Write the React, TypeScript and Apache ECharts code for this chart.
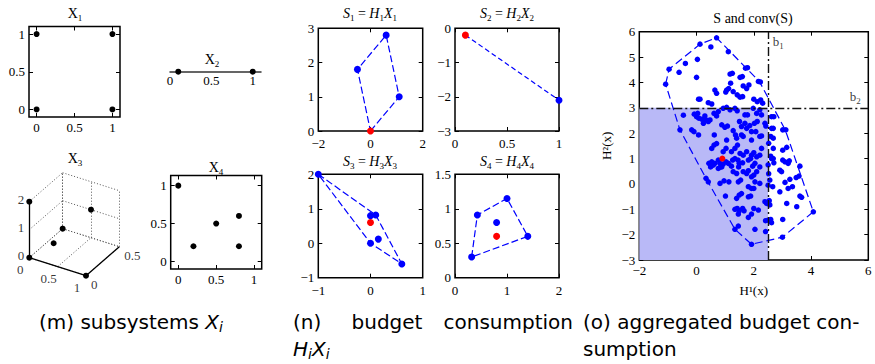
import React, { useEffect, useRef } from "react";
import * as echarts from "echarts";

// ---------------- data ----------------
const X1_points = [[0, 0], [0, 1], [1, 0], [1, 1]];
const X2_points = [[0.1, 0], [1, 0]];
const X3_points = [[0, 0, 0], [0, 0, 2], [1, 0, 0], [0, 0.5, 0], [0.5, 0.5, 1], [0.1, 0.28, 0]];
const X3_xTicks = [0, 0.5, 1];
const X3_yTicks = [0, 0.5];
const X3_zTicks = [0, 1, 2];
const X4_points = [[0, 1], [0.2, 0.2], [0.5, 0.5], [0.8, 0.6], [0.8, 0.2]];
const X_ticks = [0, 0.5, 1];

const S1_blue = [[0.6, 2.8], [-0.5, 1.8], [1.1, 1.0]];
const S1_red = [[0, 0]];
const S1_hull = [[0, 0], [1.1, 1.0], [0.6, 2.8], [-0.5, 1.8], [0, 0]];

const S2_blue = [[1, -2.1]];
const S2_red = [[0.1, -0.2]];
const S2_hull = [[0.1, -0.2], [1, -2.1]];

const S3_blue = [[-1, 2], [0, 0.8], [0.1, 0.82], [0, 0], [0.15, 0.12], [0.6, -0.6]];
const S3_red = [[0, 0.6]];
const S3_hull = [[-1, 2], [0.1, 0.82], [0.6, -0.6], [0, 0], [-1, 2]];

const S4_blue = [[0.32, 0.3], [0.43, 0.91], [1.0, 1.15], [1.4, 0.6], [0.8, 0.8]];
const S4_red = [[0.8, 0.6]];
const S4_hull = [[0.32, 0.3], [0.43, 0.91], [1.0, 1.15], [1.4, 0.6], [0.32, 0.3]];

const O_points = [
  [0.70, 5.76], [0.12, 5.51], [0.50, 5.40], [1.11, 5.21], [0.03, 4.91], [-0.39, 4.75], [-0.61, 4.40], [-0.96, 4.52], [-1.08, 3.93], [0.00, 4.20],
  [1.71, 4.56], [1.78, 4.58], [1.17, 4.33], [1.25, 4.36], [1.52, 4.20], [1.60, 4.23], [1.19, 3.97], [1.63, 3.86], [1.75, 3.76], [1.83, 3.90],
  [2.16, 4.04], [2.23, 4.02], [0.64, 3.70], [0.70, 3.57], [1.05, 3.70], [1.12, 3.76], [1.02, 3.62], [1.28, 3.64], [1.42, 3.51], [1.52, 3.42],
  [1.61, 3.44], [0.07, 3.34], [0.12, 3.34], [0.41, 3.20], [0.53, 3.15], [2.00, 3.34], [2.12, 3.24], [2.31, 3.18], [2.24, 3.31], [-0.46, 2.71],
  [-0.58, 2.13], [-0.08, 2.75], [0.00, 2.65], [0.04, 2.78], [0.08, 2.59], [0.29, 2.68], [0.41, 2.46], [0.47, 2.52], [0.33, 2.52], [0.18, 2.55],
  [0.24, 2.39], [0.61, 2.78], [0.70, 2.68], [0.76, 2.85], [0.93, 2.98], [1.05, 3.02], [1.17, 2.92], [1.34, 2.98], [1.42, 2.88], [1.69, 2.72],
  [1.78, 2.72], [1.98, 2.98], [2.10, 2.78], [2.21, 2.92], [2.27, 2.72], [0.88, 2.33], [0.99, 2.23], [1.08, 2.28], [0.62, 1.93], [-0.17, 2.13],
  [-0.09, 2.06], [0.07, 1.93], [1.28, 2.10], [1.36, 1.93], [1.57, 1.93], [1.63, 1.87], [1.69, 2.39], [2.02, 2.39], [2.12, 2.46], [2.39, 2.39],
  [2.42, 2.28], [2.62, 2.65], [2.70, 2.65], [2.62, 2.19], [2.68, 2.19], [3.01, 2.13], [3.12, 2.13], [2.07, 2.06], [2.21, 1.87], [2.27, 1.89],
  [1.92, 1.73], [1.05, 1.73], [1.40, 1.80], [2.59, 1.87], [2.68, 1.80], [1.57, 2.26], [1.75, 2.19], [1.92, 2.06], [1.50, 2.46], [1.86, 2.30],
  [0.53, 1.40], [0.61, 1.53], [0.70, 1.59], [0.93, 1.27], [1.03, 1.40], [1.22, 1.27], [1.34, 1.40], [1.43, 1.53], [1.52, 1.20], [1.63, 1.13],
  [1.75, 1.27], [1.92, 1.13], [2.00, 1.23], [2.10, 1.07], [2.21, 1.13], [2.27, 1.40], [1.34, 1.00], [1.45, 0.94], [1.81, 0.94], [1.89, 1.00],
  [2.68, 1.40], [2.59, 1.09], [2.68, 1.00], [3.01, 1.33], [3.15, 1.44], [0.53, 0.87], [0.43, 0.81], [0.58, 0.74], [0.49, 0.67], [0.64, 0.81],
  [0.76, 0.94], [0.82, 0.81], [0.88, 0.67], [0.93, 0.78], [1.03, 0.87], [1.11, 0.81], [1.26, 0.94], [1.22, 0.70], [0.76, 0.61], [0.84, 0.67],
  [1.49, 0.81], [1.47, 0.67], [1.61, 0.83], [1.96, 0.70], [2.04, 0.81], [2.21, 0.67], [2.62, 1.00], [2.70, 0.83], [3.01, 0.94], [3.09, 0.87],
  [3.20, 0.81], [3.24, 0.91], [3.61, 0.70], [1.28, 0.48], [1.40, 0.41], [1.63, 0.48], [1.75, 0.41], [1.81, 0.52], [1.92, 0.28], [2.00, 0.35],
  [2.10, 0.48], [2.97, 0.48], [2.91, 0.54], [3.58, 0.31], [3.48, 0.25], [0.33, 0.22], [0.41, 0.08], [0.82, 0.02], [0.96, 0.12], [1.13, 0.08],
  [1.46, 0.08], [1.54, 0.15], [2.04, 0.08], [2.21, 0.02], [2.56, 0.15], [2.50, -0.05], [2.66, -0.11], [3.09, 0.06], [3.26, 0.18], [2.91, -0.31],
  [3.20, -0.18], [3.35, -0.11], [1.81, -0.11], [1.92, -0.18], [2.00, -0.18], [1.49, -0.44], [1.57, -0.38], [1.01, -0.48], [1.40, -0.57], [1.81, -0.51],
  [1.89, -0.48], [2.39, -0.70], [2.45, -0.77], [2.54, -0.66], [2.56, -0.83], [3.61, -0.48], [3.67, -0.53], [3.15, -0.77], [3.50, -0.90], [1.34, -1.00],
  [1.42, -0.97], [1.49, -1.06], [1.61, -0.97], [1.66, -1.06], [2.00, -0.97], [2.16, -1.03], [1.81, -1.32], [1.92, -1.19], [1.46, -1.19], [2.41, -1.45],
  [2.50, -1.43], [2.59, -1.40], [2.62, -1.53], [3.01, -1.40], [1.34, -1.79], [1.46, -1.66], [2.04, -1.79], [2.41, -1.88], [1.92, -2.38], [3.00, -2.10],
  [4.08, -1.10], [2.52, 1.60], [2.50, 0.75], [2.52, 0.40],
];
const O_red = [[0.9, 1.0]];
const O_hull = [
  [-1.08, 3.93], [-0.96, 4.52], [0.12, 5.51], [0.70, 5.76], [2.2, 4.03], [3.1, 2.13], [4.08, -1.1],
  [3.0, -2.1], [1.92, -2.38], [1.34, -1.79], [0.33, 0.22], [-0.58, 2.13], [-1.08, 3.93],
];
const B1 = 2.5;
const B2 = 3;
const O_shade = [[-2, -3], [B1, B2]];
const O_labels = [[2.85, 5.6, "1"], [5.54, 3.44, "2"]];

// ---------------- styling helpers ----------------
const SERIF = "'Liberation Serif', 'DejaVu Serif', serif";
const SANS = "'DejaVu Sans', 'Liberation Sans', sans-serif";
const BLUE = "#0000ff";
const RED = "#ff0000";

const fmt = (v: number) => {
  const s = String(Math.round(v * 1000) / 1000);
  return s.replace("-", "\u2212");
};

type AxisSpec = { min: number; max: number; interval?: number; custom?: number[] };

function buildAxis(gi: number, s: AxisSpec, position: string, labels: boolean, margin = 4) {
  return {
    type: "value",
    gridIndex: gi,
    position,
    min: s.min,
    max: s.max,
    interval: s.interval,
    axisLine: { show: false, onZero: false },
    axisTick: { show: true, inside: true, length: 4, lineStyle: { color: "#000", width: 1 }, customValues: s.custom },
    axisLabel: {
      show: labels,
      customValues: s.custom,
      margin,
      fontFamily: SERIF,
      fontSize: 13,
      color: "#000",
      formatter: fmt,
      showMinLabel: true,
      showMaxLabel: true,
    },
    splitLine: { show: false },
  };
}

const grids: any[] = [];
const xAxes: any[] = [];
const yAxes: any[] = [];
const series: any[] = [];

function addPanel(g: any, xs: AxisSpec, ys: AxisSpec, xMargin = 4, extraX: any = {}, extraY: any = {}) {
  const gi = grids.length;
  grids.push({ ...g, show: true, borderColor: "#000", borderWidth: 1.5, backgroundColor: "transparent" });
  const xi = xAxes.length;
  const yi = yAxes.length;
  xAxes.push({ ...buildAxis(gi, xs, "bottom", true, xMargin), ...extraX });
  yAxes.push({ ...buildAxis(gi, ys, "left", true, 4), ...extraY });
  xAxes.push(buildAxis(gi, xs, "top", false));
  yAxes.push(buildAxis(gi, ys, "right", false));
  return { xi, yi };
}

function scatter(ax: any, data: any[], color: string, size: number, z = 3) {
  return {
    type: "scatter",
    xAxisIndex: ax.xi,
    yAxisIndex: ax.yi,
    data,
    symbolSize: size,
    itemStyle: { color, opacity: 1 },
    clip: false,
    z,
    silent: true,
  };
}

function hull(ax: any, data: any[], dash: number[], extra: any = {}) {
  return {
    type: "line",
    xAxisIndex: ax.xi,
    yAxisIndex: ax.yi,
    data,
    symbol: "none",
    lineStyle: { color: BLUE, width: 1.2, type: dash },
    clip: false,
    z: 2,
    silent: true,
    ...extra,
  };
}

// ---- X1 ----
const aX1 = addPanel(
  { left: 29, top: 26.5, width: 91, height: 90.5 },
  { min: -0.1, max: 1.1, custom: X_ticks },
  { min: -0.1, max: 1.1, custom: X_ticks }
);
series.push(scatter(aX1, X1_points, "#000", 6));

// ---- X2 ----
{
  const gi = grids.length;
  grids.push({ left: 170, top: 60, width: 91, height: 11.7, show: false });
  const xi = xAxes.length;
  const yi = yAxes.length;
  xAxes.push({
    type: "value",
    gridIndex: gi,
    min: 0,
    max: 1.1,
    axisLine: { show: true, onZero: false, lineStyle: { color: "#333", width: 1.5 } },
    axisTick: { show: false },
    axisLabel: { customValues: X_ticks, margin: 2, fontFamily: SERIF, fontSize: 13, color: "#000", formatter: fmt },
    splitLine: { show: false },
  });
  yAxes.push({ type: "value", gridIndex: gi, min: 0, max: 1, show: false });
  series.push(scatter({ xi, yi }, X2_points, "#000", 6));
}

// ---- X3 (3-D cube, projected) ----
const proj = (p: number[]) => [p[0] * 56.7 + p[1] * 66.7, -p[0] * 18 + p[1] * 58 + p[2] * 28];
{
  const gi = grids.length;
  grids.push({ left: 9.3, top: 157.7, width: 140, height: 120, show: false });
  const xi = xAxes.length;
  const yi = yAxes.length;
  xAxes.push({ type: "value", gridIndex: gi, min: -20, max: 120, show: false });
  yAxes.push({ type: "value", gridIndex: gi, min: -20, max: 100, show: false });
  const xMax = X3_xTicks[X3_xTicks.length - 1];
  const yMax = X3_yTicks[X3_yTicks.length - 1];
  const zMax = X3_zTicks[X3_zTicks.length - 1];
  const segs: number[][][] = [];
  X3_xTicks.forEach((x) => segs.push([[x, 0, 0], [x, yMax, 0]]));
  X3_yTicks.forEach((y) => segs.push([[0, y, 0], [xMax, y, 0]]));
  X3_xTicks.forEach((x) => segs.push([[x, yMax, 0], [x, yMax, zMax]]));
  X3_zTicks.forEach((z) => segs.push([[0, yMax, z], [xMax, yMax, z]]));
  X3_yTicks.forEach((y) => segs.push([[0, y, 0], [0, y, zMax]]));
  X3_zTicks.forEach((z) => segs.push([[0, 0, z], [0, yMax, z]]));
  series.push({
    type: "lines",
    coordinateSystem: "cartesian2d",
    xAxisIndex: xi,
    yAxisIndex: yi,
    data: segs.map((s) => ({ coords: [proj(s[0]), proj(s[1])] })),
    lineStyle: { color: "#555", width: 1, type: [1, 2], opacity: 1 },
    silent: true,
    z: 1,
  });
  const solid = [
    [[0, 0, 0], [0, 0, zMax]],
    [[0, 0, 0], [xMax, 0, 0]],
    [[xMax, 0, 0], [xMax, yMax, 0]],
  ];
  series.push({
    type: "lines",
    coordinateSystem: "cartesian2d",
    xAxisIndex: xi,
    yAxisIndex: yi,
    data: solid.map((s) => ({ coords: [proj(s[0]), proj(s[1])] })),
    lineStyle: { color: "#000", width: 1.3, type: "solid", opacity: 1 },
    silent: true,
    z: 2,
  });
  series.push(scatter({ xi, yi }, X3_points.map(proj), "#000", 6));
  const lab = (data: any[], align: string, offset: number[]) => ({
    type: "scatter",
    xAxisIndex: xi,
    yAxisIndex: yi,
    data,
    symbolSize: 0,
    silent: true,
    label: {
      show: true,
      position: "inside",
      align,
      offset,
      formatter: (p: any) => p.value[2],
      fontFamily: SERIF,
      fontSize: 13,
      color: "#000",
    },
  });
  series.push(lab(X3_zTicks.map((z) => [...proj([0, 0, z]), fmt(z)]), "right", [-5, -2]));
  series.push(lab(X3_xTicks.map((x) => [...proj([x, 0, 0]), fmt(x)]), "center", [-9, 12]));
  series.push(lab(X3_yTicks.map((y) => [...proj([xMax, y, 0]), fmt(y)]), "left", [5, 9]));
}

// ---- X4 ----
const aX4 = addPanel(
  { left: 170.7, top: 175.5, width: 91, height: 93.5 },
  { min: -0.1, max: 1.1, custom: X_ticks },
  { min: -0.1, max: 1.134, custom: X_ticks }
);
series.push(scatter(aX4, X4_points, "#000", 6));

// ---- S panels ----
const aS1 = addPanel({ left: 318.3, top: 28.3, width: 104.4, height: 102.7 }, { min: -2, max: 2, interval: 2 }, { min: 0, max: 3, interval: 1 }, 6);
series.push(hull(aS1, S1_hull, [7, 3]));
series.push(scatter(aS1, S1_blue, BLUE, 7));
series.push(scatter(aS1, S1_red, RED, 7, 4));

const aS2 = addPanel({ left: 455, top: 28.3, width: 104, height: 102.7 }, { min: 0, max: 1, interval: 0.5 }, { min: -3, max: 0, interval: 1 }, 6);
series.push(hull(aS2, S2_hull, [5, 3]));
series.push(scatter(aS2, S2_blue, BLUE, 7));
series.push(scatter(aS2, S2_red, RED, 7, 4));

const aS3 = addPanel({ left: 318.3, top: 174.3, width: 104.4, height: 103.4 }, { min: -1, max: 1, interval: 1 }, { min: -1, max: 2, interval: 1 }, 6);
series.push(hull(aS3, S3_hull, [7, 3]));
series.push(scatter(aS3, S3_blue, BLUE, 7));
series.push(scatter(aS3, S3_red, RED, 7, 4));

const aS4 = addPanel({ left: 455, top: 174.3, width: 104, height: 103.4 }, { min: 0, max: 2, interval: 1 }, { min: 0, max: 1.5, interval: 0.5 }, 6);
series.push(hull(aS4, S4_hull, [7, 3]));
series.push(scatter(aS4, S4_blue, BLUE, 7));
series.push(scatter(aS4, S4_red, RED, 7, 4));

// ---- aggregated panel ----
const aO = addPanel(
  { left: 639.3, top: 31.7, width: 229, height: 228.3 },
  { min: -2, max: 6, interval: 2 },
  { min: -3, max: 6, interval: 1 },
  4,
  {
    name: "H\u00b9(x)",
    nameLocation: "middle",
    nameGap: 24,
    nameTextStyle: { fontFamily: SERIF, fontSize: 13, color: "#000" },
  },
  {
    name: "H\u00b2(x)",
    nameLocation: "middle",
    nameGap: 26,
    nameTextStyle: { fontFamily: SERIF, fontSize: 13, color: "#000" },
  }
);
series.push(
  hull(aO, O_hull, [8, 4], {
    z: 2,
    markArea: {
      silent: true,
      itemStyle: { color: "#b9b9f7", opacity: 1 },
      data: [[{ coord: O_shade[0] }, { coord: O_shade[1] }]],
    },
    markLine: {
      silent: true,
      symbol: "none",
      label: { show: false },
      lineStyle: { color: "#111", width: 1.4, type: [9, 3, 2, 3] },
      data: [{ xAxis: B1 }, { yAxis: B2 }],
    },
  })
);
series.push(scatter(aO, O_points, BLUE, 5.5));
series.push(scatter(aO, O_red, RED, 6, 4));
series.push({
  type: "scatter",
  xAxisIndex: aO.xi,
  yAxisIndex: aO.yi,
  data: O_labels,
  symbolSize: 0,
  silent: true,
  label: {
    show: true,
    position: "inside",
    formatter: (p: any) => `{m|b}{s|${p.value[2]}}`,
    rich: {
      m: { fontFamily: SERIF, fontSize: 13, color: "#000", lineHeight: 18 },
      s: { fontFamily: SERIF, fontSize: 9, color: "#000", verticalAlign: "bottom", lineHeight: 9 },
    },
  },
});

// ---------------- texts ----------------
const titleRich = {
  r: { fontFamily: SERIF, fontSize: 14, fill: "#000", lineHeight: 18 },
  i: { fontFamily: SERIF, fontSize: 14, fontStyle: "italic", fill: "#000", lineHeight: 18 },
  s: { fontFamily: SERIF, fontSize: 9, fill: "#000", verticalAlign: "bottom", lineHeight: 9 },
};
const capRich = {
  r: { fontFamily: SANS, fontSize: 20, fill: "#000", lineHeight: 24 },
  i: { fontFamily: SANS, fontSize: 20, fontStyle: "italic", fill: "#000", lineHeight: 24 },
  s: { fontFamily: SANS, fontSize: 14, fontStyle: "italic", fill: "#000", verticalAlign: "bottom", lineHeight: 11 },
};
function gtext(x: number, y: number, text: string, rich: any, align = "center") {
  return { type: "text", x, y, silent: true, style: { text, rich, align, verticalAlign: "middle", fill: "#000" } };
}
const graphics = [
  gtext(75, 13, "{r|X}{s|1}", titleRich),
  gtext(212, 59, "{r|X}{s|2}", titleRich),
  gtext(75, 158, "{r|X}{s|3}", titleRich),
  gtext(216, 167, "{r|X}{s|4}", titleRich),
  gtext(370, 13, "{i|S}{s|1}{r| = }{i|H}{s|1}{i|X}{s|1}", titleRich),
  gtext(507, 13, "{i|S}{s|2}{r| = }{i|H}{s|2}{i|X}{s|2}", titleRich),
  gtext(370, 161, "{i|S}{s|3}{r| = }{i|H}{s|3}{i|X}{s|3}", titleRich),
  gtext(507, 161, "{i|S}{s|4}{r| = }{i|H}{s|4}{i|X}{s|4}", titleRich),
  gtext(753, 18, "{r|S and conv(S)}", titleRich),
  gtext(39, 322, "{r|(m) subsystems }{i|X}{s|i}", capRich, "left"),
  gtext(293, 322, "{r|(n)}", capRich, "left"),
  gtext(387, 322, "{r|budget}", capRich, "center"),
  gtext(573, 322, "{r|consumption}", capRich, "right"),
  gtext(293, 349, "{i|H}{s|i}{i|X}{s|i}", capRich, "left"),
  gtext(583, 322, "{r|(o) aggregated budget con-}", capRich, "left"),
  gtext(583, 349, "{r|sumption}", capRich, "left"),
];

export default function App() {
  const ref = useRef<HTMLDivElement>(null);
  useEffect(() => {
    if (!ref.current) return;
    const chart = echarts.init(ref.current, undefined, { renderer: "svg" });
    chart.setOption({
      animation: false,
      backgroundColor: "#fff",
      textStyle: { fontFamily: SERIF },
      grid: grids,
      xAxis: xAxes,
      yAxis: yAxes,
      series,
      graphic: graphics,
    });
    return () => chart.dispose();
  }, []);
  return <div ref={ref} style={{ position: "fixed", left: 0, top: 0, width: 875, height: 364 }} />;
}
